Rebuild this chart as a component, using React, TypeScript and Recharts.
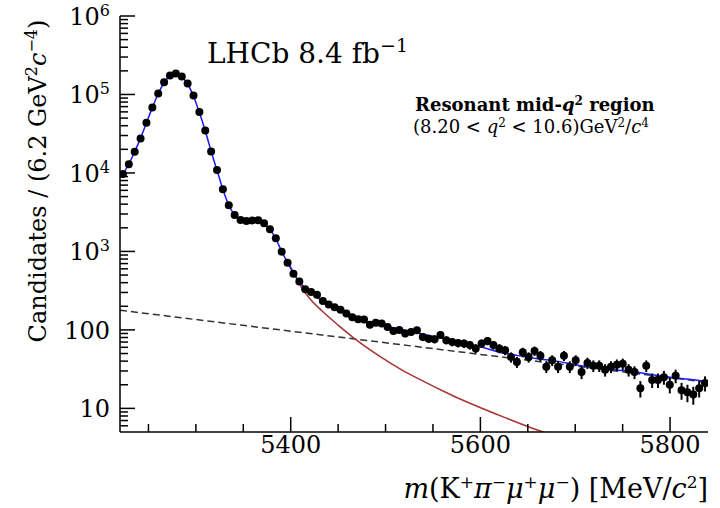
import React from 'react'
import {
  ComposedChart, Line, Scatter, ErrorBar, XAxis, YAxis,
} from 'recharts'

// ── data ───────────────────────────────────────────────────
const binLow = 5220
const binWidth = 6.2

// candidates per 6.2 MeV bin, 5220 – 5840 MeV (100 bins)
const counts = [
  9700, 12900, 18600, 27500, 43500, 68000, 103000, 143000, 174000, 185000,
  170000, 138000, 96700, 59700, 34700, 18700, 10900, 6200, 3880, 2920,
  2510, 2450, 2480, 2500, 2290, 1920, 1470, 990, 715, 520,
  415, 330, 303, 280, 234, 210, 195, 180, 162, 145,
  137, 136, 116, 123, 121, 109, 97, 100, 90, 94,
  99, 81, 77, 76, 86, 74, 70, 68, 67, 64,
  58, 67, 72, 64, 58, 55, 45, 39, 52, 45,
  54, 47, 34, 41, 34, 47, 34, 41, 29, 38,
  35, 35, 31, 34, 36, 37, 31, 29, 18, 35,
  23, 23, 25, 20, 26, 17, 16, 15, 18, 21,
]

// total fit (blue)
const fitMass = [
  5220, 5223.1, 5229.3, 5235.5, 5241.7, 5247.9, 5254.1, 5260.3, 5266.5, 5272.7,
  5278.9, 5285.1, 5291.3, 5297.5, 5303.7, 5309.9, 5316.1, 5322.3, 5328.5, 5334.7,
  5340.9, 5347.1, 5353.3, 5359.5, 5365.7, 5371.9, 5378.1, 5384.3, 5390.5, 5396.7,
  5402.9, 5409.1, 5415.3, 5421.5, 5427.7, 5440, 5460, 5480, 5500, 5520,
  5540, 5560, 5580, 5600, 5620, 5640, 5660, 5680, 5700, 5720,
  5740, 5760, 5780, 5800, 5820, 5840,
]
const fitCounts = [
  9000, 9800, 13000, 18700, 27800, 43500, 68000, 102000, 142000, 173000,
  183000, 168000, 136000, 95000, 59000, 34500, 18800, 10800, 6150, 3900,
  2900, 2520, 2460, 2470, 2450, 2250, 1900, 1450, 1000, 720,
  530, 410, 340, 295, 260, 215, 160, 125, 112, 100,
  88, 78, 69, 61, 52, 47, 43, 40, 36, 33,
  31, 29.5, 27, 25, 23.5, 22,
]

// signal tail (red)
const sigMass = [5396, 5405, 5412, 5420, 5434, 5450, 5467, 5494, 5517, 5536, 5571, 5624, 5664, 5690]
const sigCounts = [790, 484, 339, 251, 170, 115, 78, 46, 31, 23.4, 14.5, 7.8, 5.1, 4.1]

// combinatorial background (dashed)
const bkgMass = [5220, 5840]
const bkgCounts = [178, 21.5]

const xTicks = [5250, 5300, 5350, 5400, 5450, 5500, 5550, 5600, 5650, 5700, 5750, 5800]
const xMajor = [5400, 5600, 5800]
const yDecades = [10, 100, 1000, 10000, 100000]
const yMinorSteps = [2, 3, 4, 5, 6, 7, 8, 9]
const yTicks = [6, 7, 8, 9, ...yDecades.flatMap(d => [d, ...yMinorSteps.map(s => s * d)]), 1000000]

const points = counts.map((n, i) => ({
  m: binLow + binWidth * (i + 0.5),
  v: n,
  ey: [Math.sqrt(n), Math.sqrt(n)],
  ex: binWidth / 2,
}))
const fit = fitMass.map((m, i) => ({ m, v: fitCounts[i] }))
const sig = sigMass.map((m, i) => ({ m, v: sigCounts[i] }))
const bkg = bkgMass.map((m, i) => ({ m, v: bkgCounts[i] }))

const FONT = "'DejaVu Serif', serif"
const serif = { fontFamily: FONT }
const isMajorY = (v: number) => Math.abs(Math.log10(v) - Math.round(Math.log10(v))) < 1e-9

// ── ticks (ROOT style, pointing inwards) ───────────────────
const BottomTick = ({ x, y, payload }: any) => {
  const major = xMajor.includes(payload.value)
  return (
    <g>
      <line x1={x} x2={x} y1={y} y2={y - (major ? 15 : 8)} stroke="#000" strokeWidth={1.5} />
      {major && (
        <text x={x} y={y + 21} textAnchor="middle" fontSize={24} style={serif} fill="#000">
          {payload.value}
        </text>
      )}
    </g>
  )
}

const TopTick = ({ x, y, payload }: any) => {
  const major = xMajor.includes(payload.value)
  return <line x1={x} x2={x} y1={y} y2={y + (major ? 15 : 8)} stroke="#000" strokeWidth={1.5} />
}

const LeftTick = ({ x, y, payload }: any) => {
  const v = payload.value
  const major = isMajorY(v)
  const exp = Math.round(Math.log10(v))
  return (
    <g>
      <line x1={x} x2={x + (major ? 15 : 8)} y1={y} y2={y} stroke="#000" strokeWidth={1.5} />
      {major && (
        <text x={x - 10} y={y + 9} textAnchor="end" fontSize={24} style={serif} fill="#000">
          {exp <= 2 ? v : (
            <>10<tspan dy={-9} fontSize={16}>{exp}</tspan></>
          )}
        </text>
      )}
    </g>
  )
}

const RightTick = ({ x, y, payload }: any) => {
  const major = isMajorY(payload.value)
  return <line x1={x} x2={x - (major ? 15 : 8)} y1={y} y2={y} stroke="#000" strokeWidth={1.5} />
}

const Dot = (p: any) => <circle cx={p.cx} cy={p.cy} r={4} fill="#000" />

export default function App() {
  return (
    <div style={{ position: 'absolute', left: 0, top: 0, width: 720, height: 508, background: '#fff' }}>
      <ComposedChart width={720} height={508} margin={{ top: 16, right: 12, left: 0, bottom: 0 }}>
        <XAxis xAxisId="b" dataKey="m" type="number" domain={[5220, 5840]} allowDataOverflow
          ticks={xTicks} interval={0} height={76} tickSize={0} tickMargin={0} tickLine={false}
          axisLine={{ stroke: '#000', strokeWidth: 1.5 }} tick={<BottomTick />} />
        <XAxis xAxisId="t" orientation="top" dataKey="m" type="number" domain={[5220, 5840]} allowDataOverflow
          ticks={xTicks} interval={0} height={0} tickSize={0} tickMargin={0} tickLine={false}
          axisLine={{ stroke: '#000', strokeWidth: 1.5 }} tick={<TopTick />} />
        <YAxis yAxisId="l" type="number" scale="log" domain={[5, 1000000]} allowDataOverflow
          ticks={yTicks} interval={0} width={120} tickSize={0} tickMargin={0} tickLine={false}
          axisLine={{ stroke: '#000', strokeWidth: 1.5 }} tick={<LeftTick />} />
        <YAxis yAxisId="r" orientation="right" type="number" scale="log" domain={[5, 1000000]} allowDataOverflow
          ticks={yTicks} interval={0} width={0} tickSize={0} tickMargin={0} tickLine={false}
          axisLine={{ stroke: '#000', strokeWidth: 1.5 }} tick={<RightTick />} />

        <Line xAxisId="t" yAxisId="r" data={bkg} dataKey="v" type="linear" stroke="#333"
          strokeWidth={1.5} strokeDasharray="7 4" dot={false} isAnimationActive={false} />
        <Line xAxisId="b" yAxisId="l" data={sig} dataKey="v" type="monotone" stroke="#a83232"
          strokeWidth={1.5} dot={false} isAnimationActive={false} />
        <Line xAxisId="b" yAxisId="l" data={fit} dataKey="v" type="monotone" stroke="#1a1aff"
          strokeWidth={1.5} dot={false} isAnimationActive={false} />
        <Scatter xAxisId="b" yAxisId="l" data={points} dataKey="v" shape={<Dot />} isAnimationActive={false}>
          <ErrorBar dataKey="ey" direction="y" width={0} stroke="#000" strokeWidth={2} isAnimationActive={false} />
          <ErrorBar dataKey="ex" direction="x" width={0} stroke="#000" strokeWidth={2} isAnimationActive={false} />
        </Scatter>
      </ComposedChart>

      <svg width={720} height={508} style={{ position: 'absolute', left: 0, top: 0, pointerEvents: 'none', fontFamily: FONT }}
        fill="#000">
        <text x={46} y={181} transform="rotate(-90 46 181)" textAnchor="middle" fontSize={24}>
          Candidates / (6.2 GeV<tspan dy={-9} fontSize={16}>2</tspan>
          <tspan dy={9} fontStyle="italic">c</tspan>
          <tspan dy={-9} fontSize={16}>−4</tspan>
          <tspan dy={9}>)</tspan>
        </text>
        <text x={708} y={498} textAnchor="end" fontSize={27}>
          <tspan fontStyle="italic">m</tspan>(K<tspan dy={-10} fontSize={17}>+</tspan>
          <tspan dy={10} fontStyle="italic">π</tspan><tspan dy={-10} fontSize={17}>−</tspan>
          <tspan dy={10} fontStyle="italic">μ</tspan><tspan dy={-10} fontSize={17}>+</tspan>
          <tspan dy={10} fontStyle="italic">μ</tspan><tspan dy={-10} fontSize={17}>−</tspan>
          <tspan dy={10}>) [MeV/</tspan><tspan fontStyle="italic">c</tspan>
          <tspan dy={-10} fontSize={17}>2</tspan><tspan dy={10}>]</tspan>
        </text>
        <text x={207} y={63} fontSize={28}>
          LHCb 8.4 fb<tspan dy={-11} fontSize={19}>−1</tspan>
        </text>
        <text x={415} y={111} fontSize={18} fontWeight="bold">
          Resonant mid-<tspan fontStyle="italic">q</tspan><tspan dy={-6} fontSize={12}>2</tspan>
          <tspan dy={6}> region</tspan>
        </text>
        <text x={413} y={133} fontSize={18}>
          (8.20 &lt; <tspan fontStyle="italic">q</tspan><tspan dy={-6} fontSize={12}>2</tspan>
          <tspan dy={6}> &lt; 10.6)GeV</tspan><tspan dy={-6} fontSize={12}>2</tspan>
          <tspan dy={6}>/</tspan><tspan fontStyle="italic">c</tspan><tspan dy={-6} fontSize={12}>4</tspan>
        </text>
      </svg>
    </div>
  )
}
